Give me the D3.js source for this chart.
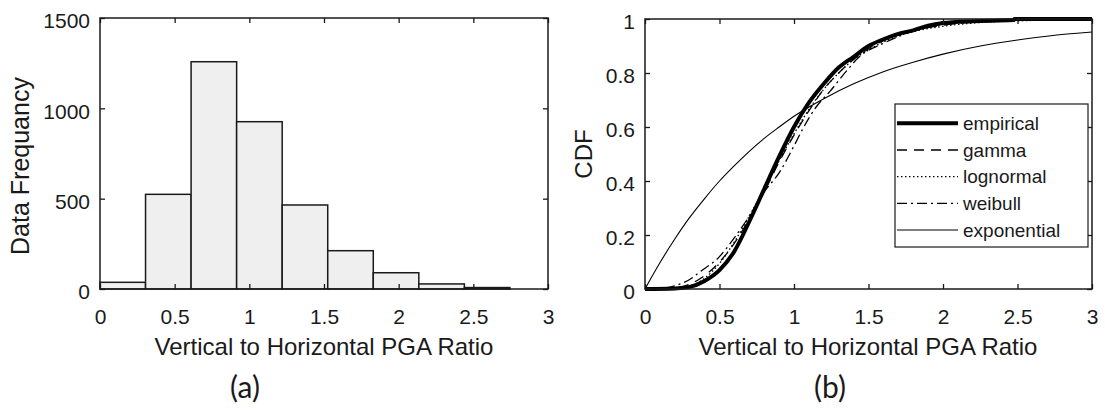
<!DOCTYPE html>
<html>
<head>
<meta charset="utf-8">
<script src="https://cdn.jsdelivr.net/npm/d3@7"></script>
<style>
  html, body { margin: 0; padding: 0; background: #fff; }
  svg { display: block; }
  text { font-family: "Liberation Sans", Arial, sans-serif; fill: #1a1a1a; }
</style>
</head>
<body>
<svg id="chart" width="1105" height="413"></svg>
<script>
// ---------- DATA ----------
// Histogram (a)
const binEdges = [0, 0.305, 0.61, 0.915, 1.22, 1.525, 1.83, 2.135, 2.44, 2.745];
const binCounts = [37, 524, 1258, 926, 465, 212, 90, 28, 8];
const histXTicks = [0, 0.5, 1, 1.5, 2, 2.5, 3];
const histYTicks = [0, 500, 1000, 1500];

// CDF (b)
const cdfXTicks = [0, 0.5, 1, 1.5, 2, 2.5, 3];
const cdfYTicks = [0, 0.2, 0.4, 0.6, 0.8, 1];

const empiricalX = [0, 0.2, 0.3, 0.4, 0.5, 0.6, 0.7, 0.8, 0.9, 1.0, 1.1, 1.2, 1.3, 1.4, 1.5, 1.6, 1.7, 1.8, 1.9, 2.0, 2.2, 2.47, 2.48, 3.0];
const empiricalY = [0, 0.002, 0.008, 0.03, 0.07, 0.14, 0.25, 0.37, 0.49, 0.6, 0.69, 0.76, 0.82, 0.86, 0.9, 0.925, 0.945, 0.958, 0.975, 0.985, 0.992, 0.996, 1.0, 1.0];

const gammaX = [0, 0.1, 0.2, 0.3, 0.4, 0.5, 0.6, 0.7, 0.8, 0.9, 1.0, 1.1, 1.2, 1.3, 1.4, 1.5, 1.6, 1.7, 1.8, 2.0, 2.2, 2.5, 3.0];
const gammaY = [0, 0.0, 0.004, 0.018, 0.05, 0.1, 0.17, 0.26, 0.36, 0.47, 0.57, 0.66, 0.74, 0.80, 0.85, 0.89, 0.92, 0.94, 0.956, 0.977, 0.989, 0.996, 0.999];

const lognormalX = [0, 0.2, 0.3, 0.4, 0.5, 0.6, 0.7, 0.8, 0.9, 1.0, 1.1, 1.2, 1.3, 1.4, 1.5, 1.6, 1.7, 1.8, 2.0, 2.2, 2.5, 3.0];
const lognormalY = [0, 0.001, 0.01, 0.04, 0.095, 0.175, 0.27, 0.37, 0.475, 0.575, 0.665, 0.74, 0.80, 0.85, 0.885, 0.915, 0.937, 0.953, 0.973, 0.985, 0.993, 0.998];

const weibullX = [0, 0.1, 0.2, 0.3, 0.37, 0.5, 0.6, 0.7, 0.8, 0.9, 1.0, 1.06, 1.15, 1.24, 1.35, 1.44, 1.6, 1.8, 2.0, 2.2, 2.5, 3.0];
const weibullY = [0, 0.002, 0.012, 0.035, 0.064, 0.12, 0.19, 0.27, 0.36, 0.43, 0.53, 0.594, 0.675, 0.731, 0.806, 0.861, 0.91, 0.955, 0.98, 0.992, 0.998, 1.0];

const exponentialX = [0, 0.1, 0.2, 0.3, 0.4, 0.5, 0.6, 0.7, 0.8, 0.9, 1.0, 1.2, 1.4, 1.6, 1.8, 2.0, 2.25, 2.5, 2.75, 3.0];
const exponentialY = [0, 0.097, 0.185, 0.265, 0.335, 0.40, 0.457, 0.51, 0.558, 0.60, 0.64, 0.705, 0.76, 0.805, 0.84, 0.87, 0.90, 0.922, 0.94, 0.952];

const legendNames = ["empirical", "gamma", "lognormal", "weibull", "exponential"];
const panelLabels = ["(a)", "(b)"];
const xLabel = "Vertical to Horizontal PGA Ratio";

// ---------- DRAW ----------
const svg = d3.select("#chart");
const TICK_FS = 21, LABEL_FS = 24, LEGEND_FS = 19;
const INK = "#1a1a1a";

function frameAxes(g, x, y, xTicks, yTicks) {
  const [x0, x1] = x.range();
  const [y0, y1] = y.range();
  const bottom = g.append("g").attr("transform", `translate(0,${y0})`)
    .call(d3.axisBottom(x).tickValues(xTicks).tickSizeInner(-5).tickSizeOuter(0).tickPadding(20).tickFormat(d3.format("")));
  const top = g.append("g").attr("transform", `translate(0,${y1})`)
    .call(d3.axisTop(x).tickValues(xTicks).tickSizeInner(-5).tickSizeOuter(0).tickFormat(""));
  const left = g.append("g").attr("transform", `translate(${x0},0)`)
    .call(d3.axisLeft(y).tickValues(yTicks).tickSizeInner(-5).tickSizeOuter(0).tickPadding(10).tickFormat(d3.format("")));
  const right = g.append("g").attr("transform", `translate(${x1},0)`)
    .call(d3.axisRight(y).tickValues(yTicks).tickSizeInner(-5).tickSizeOuter(0).tickFormat(""));
  [bottom, top, left, right].forEach(a => {
    a.select(".domain").remove();
    a.selectAll(".tick line").attr("stroke", INK).attr("stroke-width", 1.3);
    a.selectAll("text").attr("font-size", TICK_FS).attr("fill", INK)
      .style("font-family", '"Liberation Sans", Arial, sans-serif');
  });
  left.selectAll("text").attr("dy", "0.47em");
  g.append("rect")
    .attr("x", x0).attr("y", y1).attr("width", x1 - x0).attr("height", y0 - y1)
    .attr("fill", "none").attr("stroke", INK).attr("stroke-width", 1.5);
}

// ----- Panel (a) -----
const ga = svg.append("g");
const xa = d3.scaleLinear().domain([0, 3]).range([100, 548]);
const ya = d3.scaleLinear().domain([0, 1500]).range([289, 18]);

const bins = binCounts.map((c, i) => ({ x0: binEdges[i], x1: binEdges[i + 1], c }));
ga.append("g").selectAll("rect").data(bins).join("rect")
  .attr("x", d => xa(d.x0))
  .attr("y", d => ya(d.c))
  .attr("width", d => xa(d.x1) - xa(d.x0))
  .attr("height", d => ya(0) - ya(d.c))
  .attr("fill", "#efefef")
  .attr("stroke", INK)
  .attr("stroke-width", 1.5);

frameAxes(ga, xa, ya, histXTicks, histYTicks);

ga.append("text")
  .attr("x", 324).attr("y", 355)
  .attr("text-anchor", "middle").attr("font-size", LABEL_FS)
  .text(xLabel);
ga.append("text")
  .attr("transform", "translate(29,166) rotate(-90)")
  .attr("text-anchor", "middle").attr("font-size", 25)
  .text("Data Frequancy");

// ----- Panel (b) -----
const gb = svg.append("g");
const xb = d3.scaleLinear().domain([0, 3]).range([645, 1092]);
const yb = d3.scaleLinear().domain([0, 1]).range([289, 19]);

const line = d3.line().x(d => xb(d[0])).y(d => yb(d[1])).curve(d3.curveMonotoneX);
const zip = (xs, ys) => xs.map((v, i) => [v, ys[i]]);

const series = [
  { name: "exponential", pts: zip(exponentialX, exponentialY), w: 1.1, dash: null },
  { name: "weibull", pts: zip(weibullX, weibullY), w: 1.3, dash: "10,4,2,4" },
  { name: "lognormal", pts: zip(lognormalX, lognormalY), w: 1.3, dash: "1.5,2.5" },
  { name: "gamma", pts: zip(gammaX, gammaY), w: 1.3, dash: "10,7" },
  { name: "empirical", pts: zip(empiricalX, empiricalY), w: 4, dash: null }
];

gb.append("g").selectAll("path").data(series).join("path")
  .attr("d", d => line(d.pts))
  .attr("fill", "none")
  .attr("stroke", "#000")
  .attr("stroke-width", d => d.w)
  .attr("stroke-dasharray", d => d.dash);

frameAxes(gb, xb, yb, cdfXTicks, cdfYTicks);

gb.append("text")
  .attr("x", 868).attr("y", 355)
  .attr("text-anchor", "middle").attr("font-size", LABEL_FS)
  .text(xLabel);
gb.append("text")
  .attr("transform", "translate(592,154) rotate(-90)")
  .attr("text-anchor", "middle").attr("font-size", LABEL_FS)
  .text("CDF");

// Legend
const lg = gb.append("g");
lg.append("rect")
  .attr("x", 895).attr("y", 104).attr("width", 193).attr("height", 143)
  .attr("fill", "#fff").attr("stroke", INK).attr("stroke-width", 1.2);
const styleOf = Object.fromEntries(series.map(s => [s.name, s]));
const rowY = d3.scalePoint().domain(legendNames).range([123.3, 230]);
const items = lg.selectAll("g.item").data(legendNames).join("g").attr("class", "item");
items.append("line")
  .attr("x1", 897).attr("x2", 958)
  .attr("y1", d => rowY(d)).attr("y2", d => rowY(d))
  .attr("stroke", "#000")
  .attr("stroke-width", d => styleOf[d].w)
  .attr("stroke-dasharray", d => styleOf[d].dash);
items.append("text")
  .attr("x", 963).attr("y", d => rowY(d)).attr("dy", "0.35em")
  .attr("font-size", LEGEND_FS)
  .text(d => d);

// Panel captions
svg.selectAll("text.cap").data(panelLabels).join("text")
  .attr("class", "cap")
  .attr("x", (d, i) => [245, 830][i]).attr("y", 398)
  .attr("text-anchor", "middle")
  .attr("font-size", 30)
  .style("font-family", "Lato, 'Open Sans', sans-serif")
  .text(d => d);
</script>
</body>
</html>
